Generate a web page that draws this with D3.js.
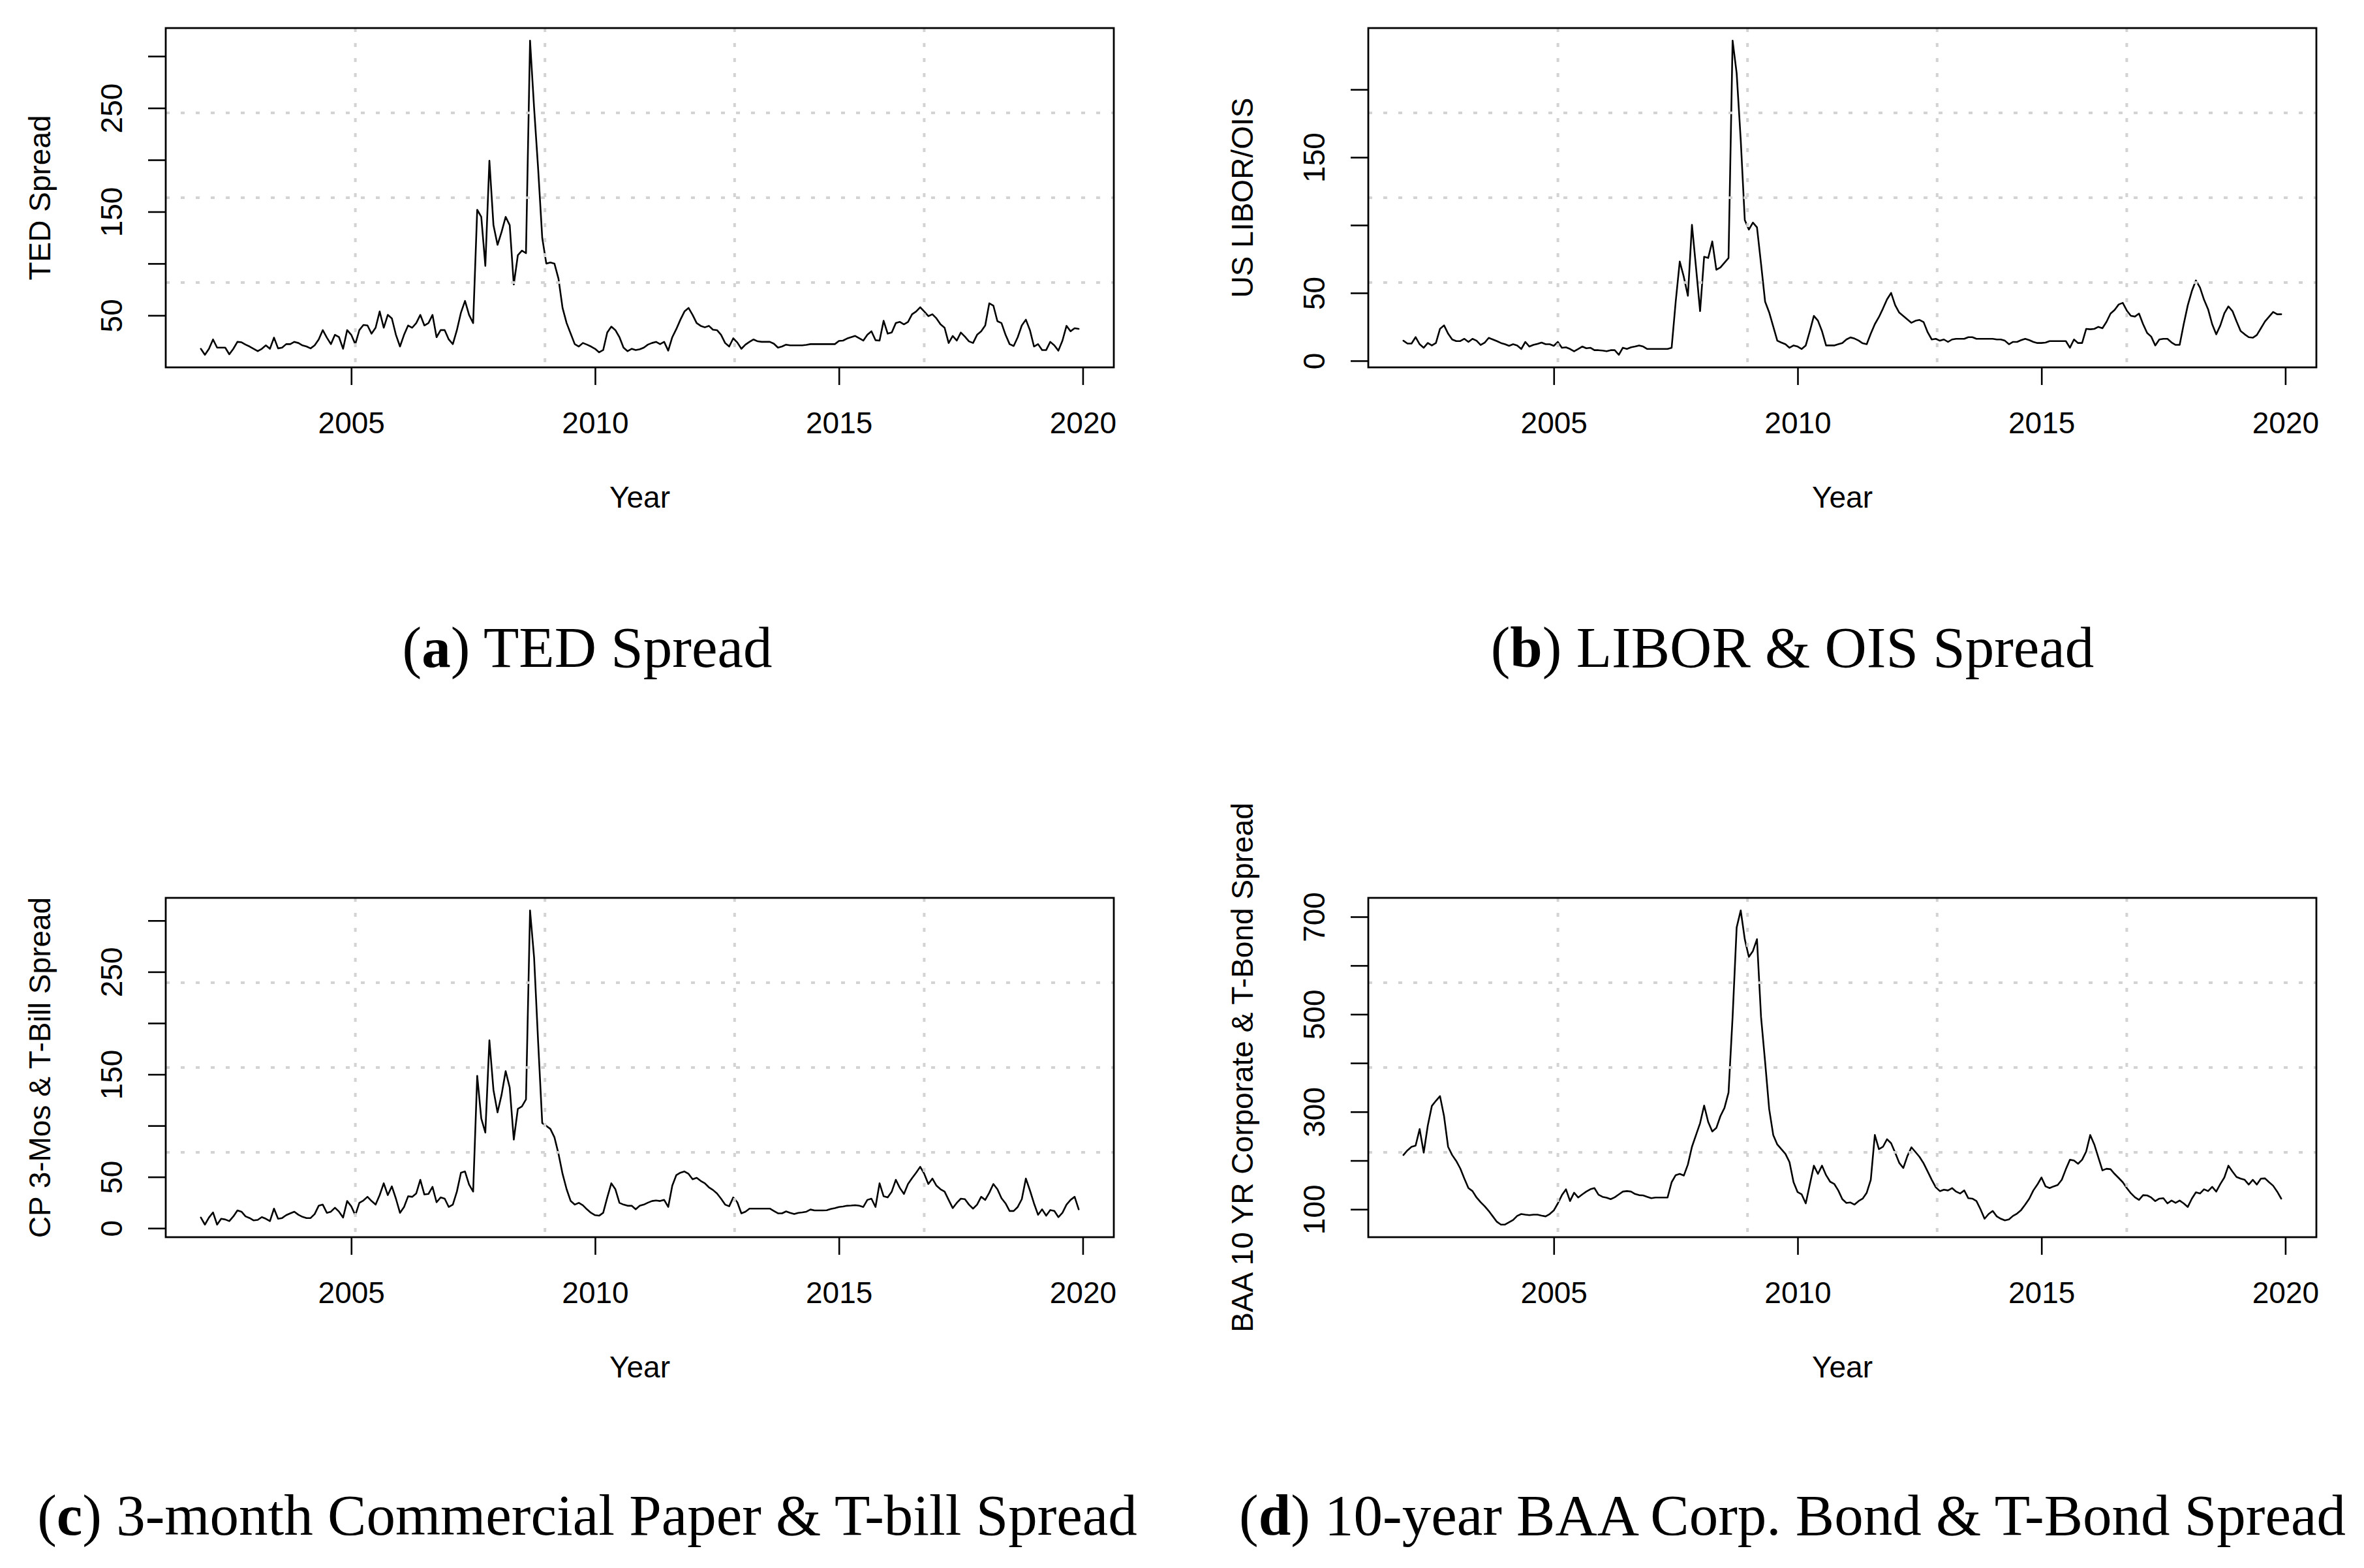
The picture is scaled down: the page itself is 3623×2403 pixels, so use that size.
<!DOCTYPE html>
<html><head><meta charset="utf-8">
<script src="https://cdn.jsdelivr.net/npm/d3@7"></script>
<style>html,body{margin:0;padding:0;background:#fff;} svg{display:block}</style>
</head><body>
<svg id="chart" width="3623" height="2403"></svg>
<script>
// ---- data (monthly, Dec 2001 .. Dec 2019) ----
const startYear = 2001 + 11 / 12;

const tedSpread = [17.8, 12.0, 17.8, 26.8, 18.9, 18.9, 18.9, 12.5, 17.8, 24.5, 24.1, 21.8, 20.0,
 17.8, 15.5, 17.8, 21.1, 17.8, 28.6, 18.2, 18.9, 22.3, 22.3, 24.5, 23.4,
 21.1, 20.0, 18.2, 21.1, 26.8, 35.8, 28.6, 22.3, 31.3, 29.0, 17.8, 35.8,
 31.3, 22.3, 35.8, 40.8, 40.3, 32.4, 38.1, 53.8, 38.1, 50.5, 47.1, 31.3,
 20.0, 31.3, 40.3, 38.1, 42.6, 50.5, 40.3, 42.6, 50.5, 29.0, 35.8, 35.8,
 26.8, 22.3, 35.8, 52.7, 64.0, 50.5, 42.6, 151.9, 145, 97.8, 199.2, 137,
 118, 130.5, 145, 137, 79.8, 108, 112.4, 110, 315, 250, 191, 124.8,
 100, 101, 100, 85.4, 57.2, 42.6, 32.4, 22.3, 20.0, 23.4, 21.8, 20.0,
 17.8, 14.4, 16.6, 33.5, 39.2, 35.8, 29.0, 18.9, 15.5, 17.8, 16.6, 17.3,
 18.9, 21.8, 23.4, 24.5, 22.3, 24.5, 16.0, 29.0, 36.9, 45.9, 53.8, 57.2,
 50.5, 42.6, 39.9, 38.5, 39.9, 36.2, 35.8, 31.3, 23.4, 20.0, 27.9, 23.9,
 17.8, 21.8, 24.5, 26.8, 25.0, 24.5, 24.5, 24.5, 22.7, 18.9, 20.0, 21.8,
 21.1, 21.1, 21.1, 21.1, 21.6, 22.3, 22.3, 22.3, 22.3, 22.3, 22.3, 22.3,
 25.4, 25.7, 27.7, 29.0, 30.2, 27.9, 25.7, 31.3, 34.7, 26.1, 25.7, 44.8,
 32.4, 33.5, 42.6, 43.7, 41.4, 43.7, 51.1, 53.8, 57.9, 53.8, 49.3, 51.1,
 47.1, 41.4, 38.1, 23.4, 30.2, 25.7, 33.5, 29.5, 25.0, 23.4, 31.3, 34.7,
 40.3, 61.7, 59.5, 44.4, 42.6, 31.3, 22.3, 20.5, 29.0, 40.3, 45.9, 35.8,
 20.0, 22.3, 16.6, 16.6, 24.5, 21.1, 16.0, 25.7, 39.9, 34.7, 37.6, 37.0];

const liborOis = [14.8,
 12.7, 12.7, 17.4, 12.2, 9.6, 13.1, 11.3, 13.1, 23.5, 26.1, 20.0, 15.7,
 14.5, 14.5, 16.2, 13.9, 16.2, 14.8, 11.7, 13.4, 16.9, 15.7, 14.5, 13.1,
 12.2, 11.0, 12.2, 11.3, 8.7, 13.9, 10.5, 11.7, 12.5, 13.4, 12.2, 12.2,
 11.0, 13.9, 9.6, 9.9, 8.7, 7.0, 8.7, 10.5, 9.2, 9.6, 7.8, 7.8,
 7.5, 7.0, 7.8, 7.8, 4.4, 9.6, 8.7, 9.9, 10.5, 11.3, 10.5, 8.7,
 8.7, 8.7, 8.7, 8.7, 8.7, 9.6, 43.6, 73.2, 61.8, 47.9, 100.2, 68.8,
 36.6, 76.7, 75.8, 88, 67.1, 68.8, 72.3, 75.8, 236, 212, 162.9, 103.7,
 96.7, 101.9, 98.4, 71.4, 43.6, 35.7, 25.3, 14.8, 13.4, 12.2, 9.6, 11.3,
 10.5, 8.7, 11.3, 21.8, 33.1, 29.6, 21.8, 11.3, 11.3, 11.3, 12.2, 13.1,
 15.7, 17.2, 16.4, 14.9, 12.9, 12.2, 20.0, 27.0, 32.2, 38.5, 45.3, 50.0,
 41, 35.5, 33, 30.5, 28, 29.5, 30.1, 28.5, 21, 15.7, 16.2, 14.8,
 15.7, 13.9, 15.7, 16.2, 16.2, 16.2, 17.4, 17.4, 16.2, 16.2, 16.2, 16.2,
 16.2, 15.7, 15.7, 14.8, 12.2, 13.9, 13.9, 15.2, 16.2, 15.2, 13.9, 13.1,
 13.1, 13.4, 14.5, 14.5, 14.5, 14.5, 14.5, 9.6, 15.7, 13.1, 13.1, 23.5,
 23.2, 23.5, 25, 24, 28.7, 34.8, 37.5, 41.5, 42.7, 37, 33.1, 32.6,
 34.8, 27, 20.5, 17.8, 11.3, 15.7, 16.2, 16.2, 13.5, 11.7, 11.7, 27,
 40.9, 51.4, 59.2, 54, 45, 38, 27, 19.5, 26, 35, 40.1, 36.6,
 29, 22, 19.5, 17.4, 17, 19, 24, 29, 32.5, 36, 34.3, 34.3];

const cpTbill = [10.4, 3.5, 10.4, 15.4, 3.5, 9.2, 8.5, 6.9, 11.5, 17.3, 16.1, 11.5, 9.9,
 7.6, 8.1, 10.8, 9.2, 6.9, 19.1, 9.2, 9.9, 12.7, 14.5, 16.1, 13.1,
 11.1, 9.9, 9.9, 13.8, 21.9, 23, 15, 16.1, 20, 16.1, 10.4, 26.5,
 21.4, 12.7, 24.7, 27, 30.6, 26.5, 23, 32.3, 43.8, 32.3, 40.8, 28.8,
 15, 20.7, 31.1, 30.6, 33.9, 47.2, 32.9, 33.4, 40.3, 25.3, 30, 28.8,
 20.7, 23, 35.7, 54.1, 55.3, 42.6, 35.7, 148.6, 107, 93.3, 183.2, 134.8,
 112.9, 130.2, 153.2, 137.1, 86.4, 116.4, 118.7, 125.6, 309.9, 263.8, 180.9, 102.5,
 99.8, 96.8, 88.7, 72.6, 53, 38, 26.5, 23, 24.7, 22.4, 18.4, 15,
 12.7, 12.2, 15, 30, 43.8, 38, 24.7, 23, 21.9, 21.9, 18.4, 21.9,
 23, 24.9, 26.5, 27, 26.5, 27.6, 20.7, 41.5, 51.8, 54.1, 55.3, 53,
 47.7, 49.1, 46.1, 43.8, 39.9, 37.3, 33.9, 28.8, 23, 21.4, 30, 25.3,
 14.5, 16.1, 19.1, 19.1, 19.1, 19.1, 19.1, 19.1, 16.8, 14.5, 14.5, 16.4,
 15, 13.8, 15, 15.4, 16.1, 18.2, 17.3, 17.3, 17.3, 17.5, 18.7, 19.6,
 20.7, 21.2, 21.9, 22.1, 22.4, 21.9, 20.7, 27.6, 28.8, 20.7, 43.8, 31.1,
 30, 35.7, 47.2, 39.2, 33.4, 43.1, 48.8, 54.1, 59.9, 53, 43.1, 48.4,
 41.5, 38, 35.7, 27.6, 19.6, 24.7, 28.8, 28.3, 23, 19.1, 23, 30.6,
 27.6, 34.6, 43.1, 38, 29.3, 24.2, 16.8, 16.8, 20.7, 28.3, 48.4, 36.9,
 24.2, 13.1, 18.4, 12.2, 17.7, 16.8, 10.8, 15, 23, 27.6, 30.6, 18.4];

const baaSpread = [211.3, 220.9, 228.2, 230.6, 264.5, 216.1, 271.7, 312, 322.5, 332.2, 291, 228.2, 211.3,
 199.2, 183.7, 162.9, 143.5, 137.3, 124.2, 114.5, 106.3, 96.6, 85.5, 74.4, 68.6,
 68.6, 73.4, 78.2, 86.5, 90.3, 88.9, 87.9, 88.9, 88.9, 86.9, 85.5, 90.3,
 97.6, 112.1, 129, 141, 117, 134, 124.2, 130.5, 136.3, 141.1, 143.5, 130,
 125.6, 123.7, 120.8, 124.7, 130.5, 136.3, 137.3, 136.3, 131.4, 129, 128.5, 125.6,
 122.7, 124.2, 124.2, 124.2, 124.2, 155.6, 170.1, 172.6, 169.2, 191.9, 228.2, 252.4,
 276.6, 312.9, 279, 259.6, 266.9, 291.1, 308, 339.5, 494.3, 678.1, 713, 654,
 617.7, 629.8, 654, 494.3, 402.4, 305.6, 252.4, 233, 223.4, 213.7, 196.8, 155.6,
 135.3, 130.5, 112.1, 150.8, 189.5, 172.6, 189.5, 170.1, 156.6, 152.2, 138.7, 120.8,
 113.1, 114, 109.7, 116.9, 121.8, 133.9, 160.5, 252.4, 223.4, 228.2, 243.7, 235.5,
 216.1, 195.3, 184.7, 208.9, 227.2, 217.5, 207.4, 194.3, 177.4, 160.5, 145, 137.3,
 140.2, 138.7, 143.5, 136.3, 132.4, 138.7, 122.7, 121.8, 116.9, 100, 80.6, 90.3,
 96.6, 85.5, 80.6, 77.3, 79.2, 86.5, 91.3, 98.5, 109.7, 121.8, 138.7, 150.8,
 165.3, 147, 143.5, 147, 149.8, 160.5, 182.2, 201.6, 200.1, 193.4, 201.6, 218.5,
 252.4, 233, 206.4, 179.8, 183.2, 182.2, 172.6, 164.3, 155.6, 143.5, 132.9, 124.7,
 119.4, 129, 128.5, 124.2, 116.9, 121.8, 122.7, 112.1, 117.9, 113.1, 117.9, 112.1,
 104.8, 121.8, 134.8, 132.4, 141.1, 137.3, 146, 136.3, 151.8, 165.3, 189.5, 177.4,
 166.3, 162.9, 160.5, 150.8, 160.5, 150.8, 162.9, 163.4, 155.6, 148.4, 136.3, 121.8];

const xTicks = [2005, 2010, 2015, 2020];
const yTicksA = [50, 100, 150, 200, 250, 300], yLabelsA = [50, 150, 250];
const yTicksB = [0, 50, 100, 150, 200], yLabelsB = [0, 50, 150];
const yTicksC = [0, 50, 100, 150, 200, 250, 300], yLabelsC = [0, 50, 150, 250];
const yTicksD = [100, 200, 300, 400, 500, 600, 700], yLabelsD = [100, 300, 500, 700];
const xTitle = "Year";
const yTitles = ["TED Spread", "US LIBOR/OIS", "CP 3-Mos & T-Bill Spread", "BAA 10 YR Corporate & T-Bond Spread"];
const captionLetters = ["a", "b", "c", "d"];
const captionTexts = [" TED Spread", " LIBOR & OIS Spread", " 3-month Commercial Paper & T-bill Spread", " 10-year BAA Corp. Bond & T-Bond Spread"];

// ---- layout ----
const boxLeft = [254, 2097], boxTop = [43, 1376];
const boxW = 1453, boxH = 520;
const capCenter = [900, 2747], capBase = [1022, 2352];
const axisFont = '"Liberation Sans", Arial, sans-serif';
const axisSize = 46;

const svg = d3.select("#chart");
svg.append("rect").attr("width", 3623).attr("height", 2403).attr("fill", "#fff");

const panels = [
  {values: tedSpread, yTicks: yTicksA, yLabels: yLabelsA, col: 0, row: 0},
  {values: liborOis, yTicks: yTicksB, yLabels: yLabelsB, col: 1, row: 0},
  {values: cpTbill, yTicks: yTicksC, yLabels: yLabelsC, col: 0, row: 1},
  {values: baaSpread, yTicks: yTicksD, yLabels: yLabelsD, col: 1, row: 1}
];

function rExtent(ext) { const r = ext[1] - ext[0]; return [ext[0] - 0.04 * r, ext[1] + 0.04 * r]; }

panels.forEach((p, k) => {
  const bx = boxLeft[p.col], by = boxTop[p.row];
  const data = p.values.map((v, i) => ({t: startYear + i / 12, v}));
  const x = d3.scaleLinear().domain(rExtent(d3.extent(data, d => d.t))).range([bx, bx + boxW]);
  const y = d3.scaleLinear().domain(rExtent(d3.extent(data, d => d.v))).range([by + boxH, by]);
  const g = svg.append("g");

  // data line
  g.append("path").datum(data)
    .attr("fill", "none").attr("stroke", "#000").attr("stroke-width", 2.6)
    .attr("stroke-linejoin", "round").attr("stroke-linecap", "round")
    .attr("d", d3.line().x(d => x(d.t)).y(d => y(d.v)));

  // grid (nx = 5, ny = 4)
  const xd = x.domain(), yd = y.domain();
  const gx = d3.range(1, 5).map(i => xd[0] + i * (xd[1] - xd[0]) / 5);
  const gy = d3.range(1, 4).map(i => yd[0] + i * (yd[1] - yd[0]) / 4);
  g.selectAll(".gx").data(gx).join("line")
    .attr("x1", d => x(d)).attr("x2", d => x(d)).attr("y1", by).attr("y2", by + boxH)
    .attr("stroke", "#d3d3d3").attr("stroke-width", 4).attr("stroke-dasharray", "6 17");
  g.selectAll(".gy").data(gy).join("line")
    .attr("x1", bx).attr("x2", bx + boxW).attr("y1", d => y(d)).attr("y2", d => y(d))
    .attr("stroke", "#d3d3d3").attr("stroke-width", 4).attr("stroke-dasharray", "6 17");

  // box
  g.append("rect").attr("x", bx).attr("y", by).attr("width", boxW).attr("height", boxH)
    .attr("fill", "none").attr("stroke", "#000").attr("stroke-width", 2.8);

  // x axis
  const ax = g.append("g").attr("transform", `translate(0,${by + boxH})`)
    .call(d3.axisBottom(x).tickValues(xTicks).tickSize(27).tickSizeOuter(0).tickFormat(d3.format("d")));
  ax.select(".domain").remove();
  ax.selectAll("line").attr("stroke", "#000").attr("stroke-width", 2.6);
  ax.selectAll("text").attr("y", 101).attr("dy", null)
    .attr("font-family", axisFont).attr("font-size", axisSize).attr("fill", "#000");

  // y axis
  const ay = g.append("g").attr("transform", `translate(${bx},0)`)
    .call(d3.axisLeft(y).tickValues(p.yTicks).tickSize(27).tickSizeOuter(0)
      .tickFormat(d => p.yLabels.includes(d) ? String(d) : ""));
  ay.select(".domain").remove();
  ay.selectAll("line").attr("stroke", "#000").attr("stroke-width", 2.6);
  ay.selectAll("text").attr("x", null).attr("dy", null)
    .attr("transform", "translate(-67,0) rotate(-90)")
    .attr("text-anchor", "middle")
    .attr("font-family", axisFont).attr("font-size", axisSize).attr("fill", "#000");

  // axis titles
  g.append("text").attr("x", bx + boxW / 2).attr("y", by + boxH + 215)
    .attr("text-anchor", "middle").attr("font-family", axisFont).attr("font-size", axisSize)
    .text(xTitle);
  g.append("text").attr("transform", `translate(${bx - 177},${by + boxH / 2}) rotate(-90)`)
    .attr("text-anchor", "middle").attr("font-family", axisFont).attr("font-size", axisSize)
    .text(yTitles[k]);

  // caption
  const cap = svg.append("text").attr("x", capCenter[p.col]).attr("y", capBase[p.row])
    .attr("text-anchor", "middle").attr("font-family", '"Liberation Serif", "Times New Roman", serif')
    .attr("font-size", 89).attr("fill", "#000");
  cap.append("tspan").text("(");
  cap.append("tspan").attr("font-weight", "bold").text(captionLetters[k]);
  cap.append("tspan").text(")" + captionTexts[k]);
});
</script>
</body></html>
